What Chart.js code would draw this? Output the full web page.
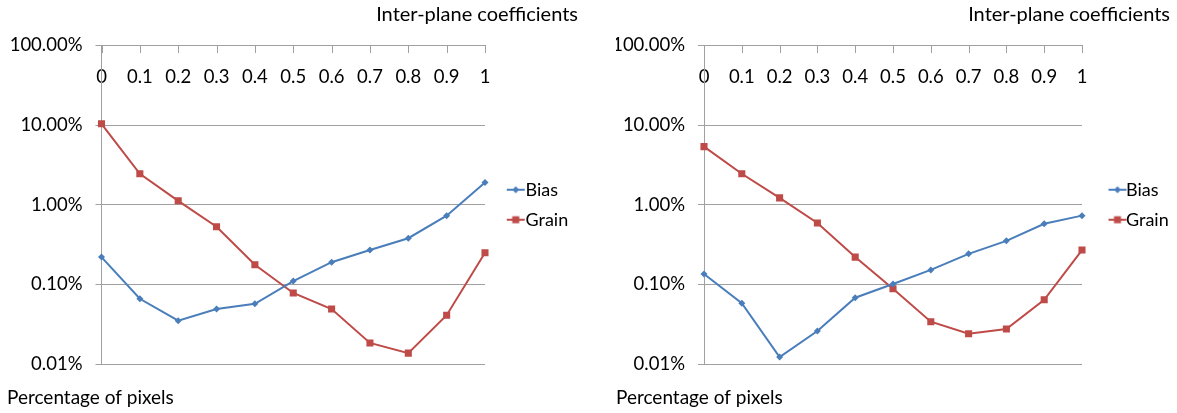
<!DOCTYPE html>
<html>
<head>
<meta charset="utf-8">
<script src="https://cdn.jsdelivr.net/npm/chart.js@4.4.0/dist/chart.umd.min.js"></script>
<style>
  body { margin: 0; background: #fff; }
  #wrap { position: relative; width: 1177px; height: 413px; }
  #left { position: absolute; left: 0; top: 0; }
  #right { position: absolute; left: 608px; top: 0; }
</style>
</head>
<body>
<div id="wrap">
  <canvas id="left" width="590" height="413"></canvas>
  <canvas id="right" width="569" height="413"></canvas>
</div>
<script>
// categories on the top axis
const categories = ['0', '0.1', '0.2', '0.3', '0.4', '0.5', '0.6', '0.7', '0.8', '0.9', '1'];
// log axis ticks (fractions, shown as %)
const yTickValues = [0.0001, 0.001, 0.01, 0.1, 1];

// left panel
const leftBias = [0.0022, 0.00066, 0.00035, 0.00049, 0.00057, 0.0011, 0.0019, 0.0027, 0.0038, 0.0073, 0.019];
const leftGrain = [0.104, 0.0245, 0.0112, 0.0053, 0.00176, 0.00078, 0.00049, 0.000184, 0.000137, 0.00041, 0.0025];

// right panel
const rightBias = [0.00135, 0.00058, 0.000122, 0.00026, 0.00068, 0.00101, 0.00152, 0.00242, 0.00352, 0.00577, 0.0073];
const rightGrain = [0.0537, 0.0245, 0.0122, 0.0059, 0.0022, 0.00088, 0.00034, 0.00024, 0.000275, 0.00064, 0.0027];

const BLUE = '#4a7ebb';
const RED = '#be4b48';
const GRID = '#a0a0a0';
const TICK_FONT = { family: 'Lato', size: 18.5 };
const LEGEND_FONT = { family: 'Lato', size: 18 };

// legend swatch: line with the marker in the middle.
// canvas is drawn centred on the legend box, the line sits right of centre
function legendSwatch(color, style, shift) {
    const c = document.createElement('canvas');
    c.width = 60;
    c.height = 10;
    const ctx = c.getContext('2d');
    const x0 = 30 + shift, x1 = x0 + 18, mx = (x0 + x1) / 2;
    ctx.strokeStyle = color;
    ctx.lineWidth = 2;
    ctx.beginPath();
    ctx.moveTo(x0, 5);
    ctx.lineTo(x1, 5);
    ctx.stroke();
    ctx.fillStyle = color;
    if (style === 'rect') {
        ctx.fillRect(mx - 3.5, 1.5, 7, 7);
    } else {
        ctx.beginPath();
        ctx.moveTo(mx, 1.5);
        ctx.lineTo(mx + 3.5, 5);
        ctx.lineTo(mx, 8.5);
        ctx.lineTo(mx - 3.5, 5);
        ctx.closePath();
        ctx.fill();
    }
    return c;
}

// small tick marks hanging under the top axis line
const topTicks = {
    id: 'topTicks',
    afterDatasetsDraw(chart) {
        const x = chart.scales.x;
        const top = Math.round(chart.chartArea.top);
        const ctx = chart.ctx;
        ctx.save();
        ctx.strokeStyle = GRID;
        ctx.lineWidth = 1;
        x.ticks.forEach((t, i) => {
            const px = Math.round(x.getPixelForTick(i)) + 0.5;
            ctx.beginPath();
            ctx.moveTo(px, top);
            ctx.lineTo(px, top + 7);
            ctx.stroke();
        });
        ctx.restore();
    }
};

function makeChart(id, bias, grain, pad, yWidth, legendWidth, boxW, shift) {
    const swatches = [legendSwatch(BLUE, 'rectRot', shift), legendSwatch(RED, 'rect', shift)];
    return new Chart(document.getElementById(id), {
        type: 'line',
        data: {
            labels: categories,
            datasets: [
                {
                    label: 'Bias',
                    data: bias,
                    borderColor: BLUE,
                    backgroundColor: BLUE,
                    borderWidth: 2,
                    pointStyle: 'rectRot',
                    pointRadius: 3.5,
                    pointBorderWidth: 0,
                    tension: 0
                },
                {
                    label: 'Grain',
                    data: grain,
                    borderColor: RED,
                    backgroundColor: RED,
                    borderWidth: 2,
                    pointStyle: 'rect',
                    pointRadius: 5,
                    pointBorderWidth: 0,
                    tension: 0
                }
            ]
        },
        options: {
            responsive: false,
            animation: false,
            devicePixelRatio: 1,
            layout: { padding: pad },
            plugins: {
                title: {
                    display: true,
                    text: 'Inter-plane coefficients',
                    align: 'end',
                    color: '#000',
                    font: { family: 'Lato', size: 20, weight: 'normal' },
                    padding: { top: 3, bottom: 18.5 }
                },
                subtitle: {
                    display: true,
                    text: 'Percentage of pixels',
                    position: 'bottom',
                    align: 'start',
                    color: '#000',
                    font: { family: 'Lato', size: 19 },
                    padding: { top: 22.5, bottom: 3.7 }
                },
                legend: {
                    position: 'right',
                    fullSize: false,
                    maxWidth: legendWidth,
                    labels: {
                        color: '#000',
                        font: LEGEND_FONT,
                        usePointStyle: true,
                        pointStyleWidth: boxW,
                        padding: 12,
                        generateLabels: function (chart) {
                            const items = Chart.defaults.plugins.legend.labels.generateLabels(chart);
                            items.forEach((it, i) => { it.pointStyle = swatches[i]; });
                            return items;
                        }
                    }
                },
                tooltip: { enabled: false }
            },
            scales: {
                x: {
                    type: 'category',
                    position: 'top',
                    offset: false,
                    grid: { drawOnChartArea: false, drawTicks: false, color: GRID },
                    border: { color: GRID },
                    ticks: { color: '#000', font: TICK_FONT, mirror: true, padding: 20.5, maxRotation: 0, autoSkip: false },
                    afterFit: function (scale) { scale.height = 0; }
                },
                y: {
                    type: 'logarithmic',
                    min: 0.0001,
                    max: 1,
                    grid: { color: GRID, tickLength: 6 },
                    border: { color: GRID },
                    ticks: {
                        color: '#000',
                        font: TICK_FONT,
                        padding: 13,
                        callback: (v) => (v * 100).toFixed(2) + '%'
                    },
                    afterBuildTicks: function (scale) {
                        scale.ticks = yTickValues.map(v => ({ value: v }));
                    },
                    afterFit: function (scale) { scale.width = yWidth; }
                }
            }
        },
        plugins: [topTicks]
    });
}

makeChart('left', leftBias, leftGrain, { left: 7, right: 12, top: 0, bottom: 0 }, 94.5, 93, 19.5, 0);
makeChart('right', rightBias, rightGrain, { left: 8, right: 7, top: 0, bottom: 0 }, 88, 88, 23, 3);
</script>
</body>
</html>
